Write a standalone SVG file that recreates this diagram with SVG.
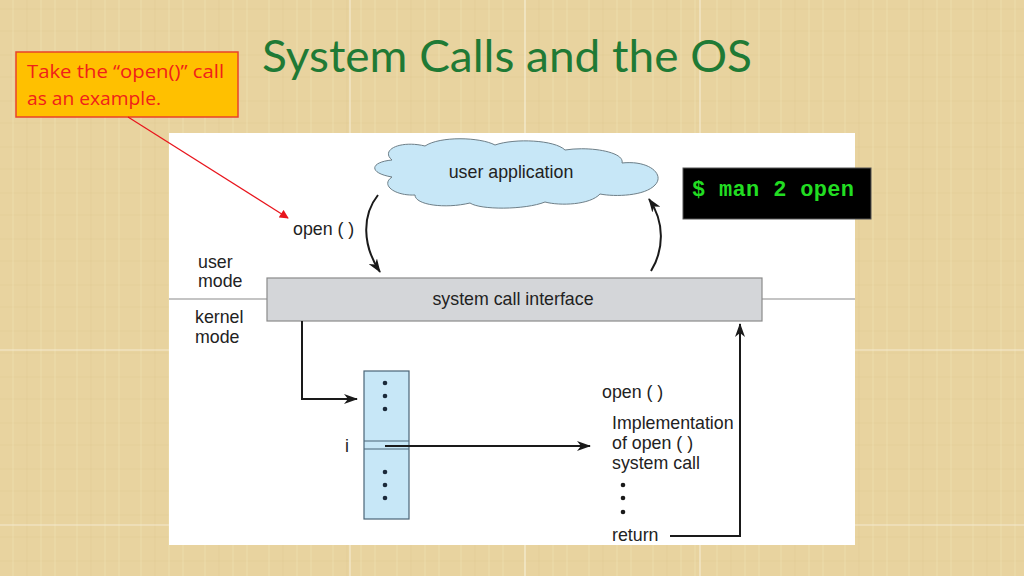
<svg xmlns="http://www.w3.org/2000/svg" width="1024" height="576" viewBox="0 0 1024 576">
<defs>
<marker id="ah" viewBox="0 0 14 10" refX="13" refY="5" markerWidth="14" markerHeight="10" markerUnits="userSpaceOnUse" orient="auto"><path d="M0,0 L14,5 L0,10 L4,5 Z" fill="#1a1a1a"/></marker>
<marker id="ahr" viewBox="0 0 10 10" refX="9" refY="5" markerWidth="10" markerHeight="9" markerUnits="userSpaceOnUse" orient="auto"><path d="M0,0 L10,5 L0,10 Z" fill="#e8141c"/></marker>
<pattern id="tex" width="64" height="46" patternUnits="userSpaceOnUse">
<rect width="64" height="46" fill="#e8d39f"/>
<path d="M0,9 H64 M0,31 H64" stroke="#dcc58e" stroke-width="1" opacity="0.35"/>
<path d="M13,0 V46 M41,0 V46 M55,0 V46" stroke="#f0e2b8" stroke-width="1.5" opacity="0.35"/>
<path d="M27,0 V46" stroke="#d9c188" stroke-width="1" opacity="0.3"/>
</pattern>
<style>
.t{font-family:"Liberation Sans",Arial,sans-serif;font-size:17.8px;fill:#222}
.c{stroke:#1a1a1a;stroke-width:2;fill:none}
.dot{fill:#1a1a1a}
.tdot{fill:#1b2a3a}
.co{font-family:"Open Sans","Liberation Sans",sans-serif;font-size:18.5px;fill:#f0201a}
</style>
</defs>
<rect width="1024" height="576" fill="url(#tex)"/>
<g stroke="#f7f0dc" stroke-width="1.2" opacity="0.8">
<path d="M350,0 V576 M525,0 V576 M700,0 V576 M0,350 H1024 M0,525 H1024"/>
</g>
<rect x="169" y="133" width="686" height="412" fill="#ffffff"/>
<text x="507" y="72" text-anchor="middle" font-family="Lato,'Open Sans',sans-serif" font-size="44" fill="#1f7a35" textLength="490" lengthAdjust="spacingAndGlyphs">System Calls and the OS</text>
<g id="callout">
<rect x="16" y="52" width="222" height="65" fill="#ffc000" stroke="#e8432a" stroke-width="1.5"/>
<text class="co" x="27" y="78" textLength="197" lengthAdjust="spacingAndGlyphs">Take the “open()” call</text>
<text class="co" x="27" y="105" textLength="134" lengthAdjust="spacingAndGlyphs">as an example.</text>
</g>
<g id="cloud">
<path d="M392,160 C380,150 400,140 425,146 C440,136 480,137 495,145 C515,138 555,140 565,150 C590,146 625,152 622,163 C650,160 665,175 655,185 C645,196 615,197 600,194 C590,205 560,206 545,202 C525,210 480,210 470,203 C445,209 415,205 415,195 C395,196 380,185 392,177 C368,173 370,162 392,160 Z" fill="#c7e7f7" stroke="#6e7f88" stroke-width="1"/>
<text class="t" x="511" y="178" text-anchor="middle">user application</text>
</g>
<g id="manbox">
<rect x="683" y="168" width="188" height="51" fill="#000000" stroke="#555" stroke-width="1"/>
<text x="692" y="196" font-family="'Liberation Mono','Courier New',monospace" font-size="22" font-weight="bold" fill="#22dd22" textLength="162" lengthAdjust="spacing">$ man 2 open</text>
</g>
<g id="labels">
<text class="t" x="293" y="235">open ( )</text>
<text class="t" x="198" y="268">user</text>
<text class="t" x="198" y="287">mode</text>
<text class="t" x="195" y="323">kernel</text>
<text class="t" x="195" y="343">mode</text>
</g>
<g id="sci">
<rect x="267" y="278" width="495" height="43" fill="#d4d6d9" stroke="#8a8a8a" stroke-width="1.2"/>
<text class="t" x="513" y="305" text-anchor="middle">system call interface</text>
</g>
<g id="table">
<rect x="364" y="371" width="45" height="148" fill="#c7e7f7" stroke="#4a6577" stroke-width="1.2"/>
<path d="M364,441 H409 M364,449 H409" stroke="#4a6577" stroke-width="1.2"/>
<circle class="tdot" cx="385" cy="383" r="2.3"/><circle class="tdot" cx="385" cy="396" r="2.3"/><circle class="tdot" cx="385" cy="409" r="2.3"/>
<circle class="tdot" cx="385" cy="472" r="2.3"/><circle class="tdot" cx="385" cy="485" r="2.3"/><circle class="tdot" cx="385" cy="498" r="2.3"/>
<text class="t" x="345" y="452">i</text>
</g>
<g id="impl">
<text class="t" x="602" y="398">open ( )</text>
<text class="t" x="612" y="429">Implementation</text>
<text class="t" x="612" y="449">of open ( )</text>
<text class="t" x="612" y="469">system call</text>
<circle class="dot" cx="623" cy="485" r="2.3"/><circle class="dot" cx="623" cy="498" r="2.3"/><circle class="dot" cx="623" cy="512" r="2.3"/>
<text class="t" x="612" y="541">return</text>
</g>
<g id="connectors">
<path d="M128,117 L288,218" stroke="#e8141c" stroke-width="1.2" fill="none" marker-end="url(#ahr)"/>
<path class="c" d="M378,195 C362,215 362,245 380,272" marker-end="url(#ah)"/>
<path class="c" d="M651,271 C664,250 665,222 649,199" marker-end="url(#ah)"/>
<path d="M169,299 H267 M762,299 H855" stroke="#8a8a8a" stroke-width="1.2" fill="none"/>
<path class="c" d="M302,321 V399 H357" marker-end="url(#ah)"/>
<path class="c" d="M385,446 H590" marker-end="url(#ah)"/>
<path class="c" d="M670,536 H740 V324" marker-end="url(#ah)"/>
</g>
</svg>
